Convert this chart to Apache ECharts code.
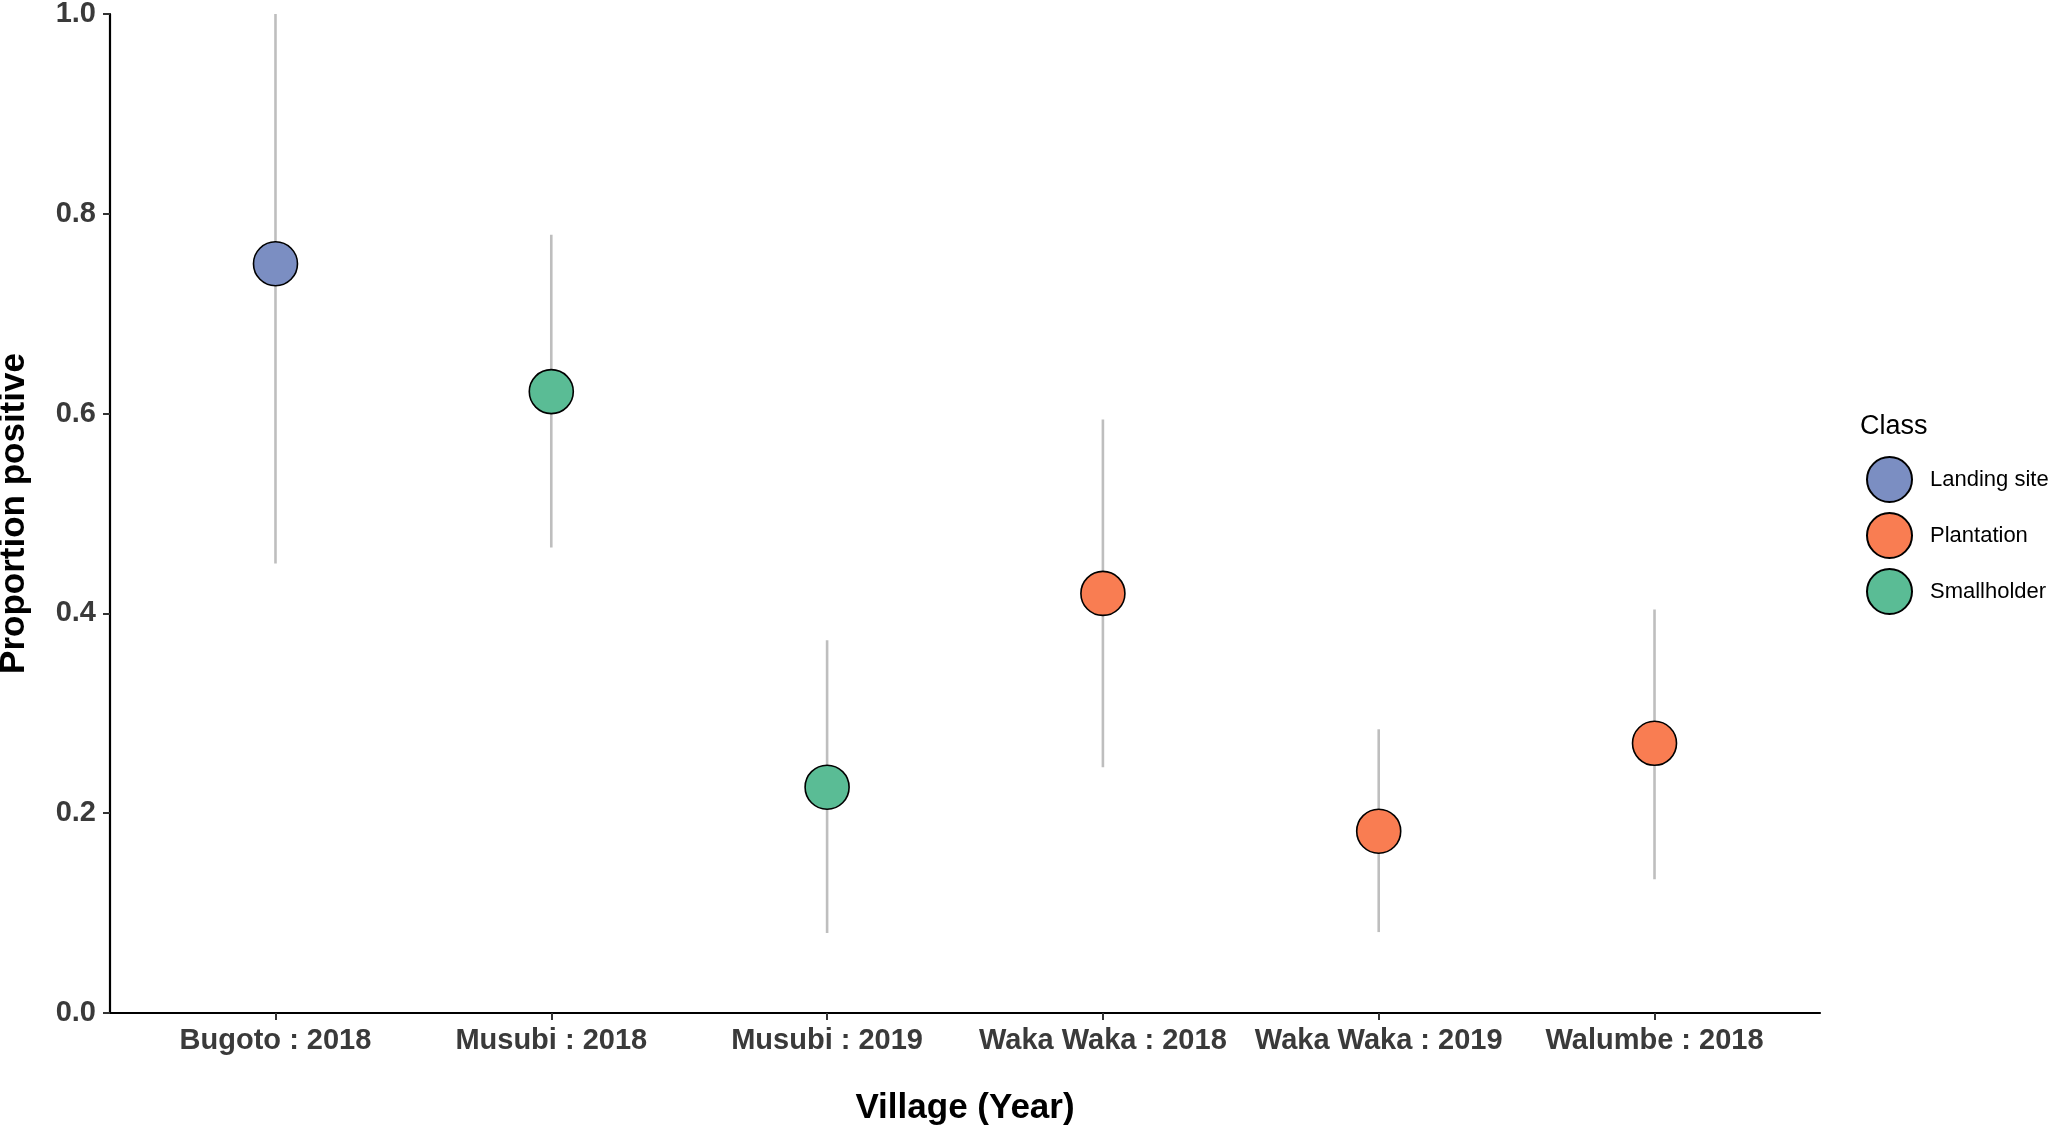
<!DOCTYPE html>
<html><head><meta charset="utf-8">
<script src="https://cdn.jsdelivr.net/npm/echarts@6/dist/echarts.min.js"></script>
<style>html,body{margin:0;padding:0;background:#fff}#c{width:2050px;height:1125px}</style>
</head><body><div id="c"></div>
<script>
var categories = ['Bugoto : 2018','Musubi : 2018','Musubi : 2019','Waka Waka : 2018','Waka Waka : 2019','Walumbe : 2018'];
var pointClass = ['Landing site','Smallholder','Smallholder','Plantation','Plantation','Plantation'];
var estimate = [0.750, 0.622, 0.226, 0.420, 0.182, 0.270];
var lower    = [0.450, 0.466, 0.080, 0.246, 0.081, 0.134];
var upper    = [1.000, 0.779, 0.373, 0.594, 0.284, 0.404];
var classNames = ['Landing site','Plantation','Smallholder'];
var classColors = ['#7B8EC2','#F97D52','#5ABC95'];

var FONT = 'Liberation Sans, Arial, sans-serif';
var chart = echarts.init(document.getElementById('c'));

var errData = categories.map(function(c,i){ return [i, lower[i], upper[i]]; });
var series = [{
  type: 'custom',
  name: 'ci',
  silent: true,
  z: 1,
  data: errData,
  encode: {x: 0, y: [1,2]},
  renderItem: function(params, api){
    var p1 = api.coord([api.value(0), api.value(1)]);
    var p2 = api.coord([api.value(0), api.value(2)]);
    return {type:'line', shape:{x1:p1[0],y1:p1[1],x2:p2[0],y2:p2[1]},
            style:{stroke:'#BEBEBE', lineWidth:2.6}};
  }
}];
classNames.forEach(function(cn, k){
  var d = [];
  categories.forEach(function(c,i){ if (pointClass[i]===cn) d.push([i, estimate[i]]); });
  series.push({
    type:'scatter', name: cn, z: 5, data: d, symbol:'circle', symbolSize: 44,
    itemStyle:{color: classColors[k], borderColor:'#000', borderWidth:1.6, opacity:1}
  });
});

chart.setOption({
  animation: false,
  backgroundColor: '#fff',
  textStyle: {fontFamily: FONT},
  title: {text:'Class', left: 1855, top: 408, textStyle:{fontFamily:FONT, fontSize:27, fontWeight:'normal', color:'#000'}},
  legend: {
    orient:'vertical', left: 1861, top: 451, itemWidth: 45, itemHeight: 45, itemGap: 9,
    icon:'circle', data: classNames,
    textStyle:{fontFamily:FONT, fontSize:22, color:'#000', padding:[0,0,0,13]}
  },
  grid: {left:110, right:230, top:14, bottom:112, containLabel:false, outerBoundsMode:'none'},
  xAxis: {
    type:'value', min:-0.6, max:5.6,
    name:'Village (Year)', nameLocation:'middle', nameGap:78,
    nameTextStyle:{fontFamily:FONT, fontSize:35, fontWeight:'bold', color:'#000'},
    axisLine:{show:true, onZero:false, lineStyle:{color:'#000', width:2.2}},
    axisTick:{show:true, length:7, customValues:[0,1,2,3,4,5], lineStyle:{color:'#333', width:2}},
    axisLabel:{customValues:[0,1,2,3,4,5], margin:13, fontFamily:FONT, fontSize:29, fontWeight:'bold', color:'#3a3a3a',
      formatter:function(v){ return categories[Math.round(v)]; }},
    splitLine:{show:false}
  },
  yAxis: {
    type:'value', min:0, max:1, interval:0.2,
    name:'Proportion positive', nameLocation:'middle', nameGap:78,
    nameTextStyle:{fontFamily:FONT, fontSize:35, fontWeight:'bold', color:'#000'},
    axisLine:{show:true, onZero:false, lineStyle:{color:'#000', width:2.2}},
    axisTick:{show:true, length:7, lineStyle:{color:'#333', width:2}},
    axisLabel:{margin:14, fontFamily:FONT, fontSize:29, fontWeight:'bold', color:'#3a3a3a',
      formatter:function(v){ return v.toFixed(1); }},
    splitLine:{show:false}
  },
  series: series
});
</script></body></html>
